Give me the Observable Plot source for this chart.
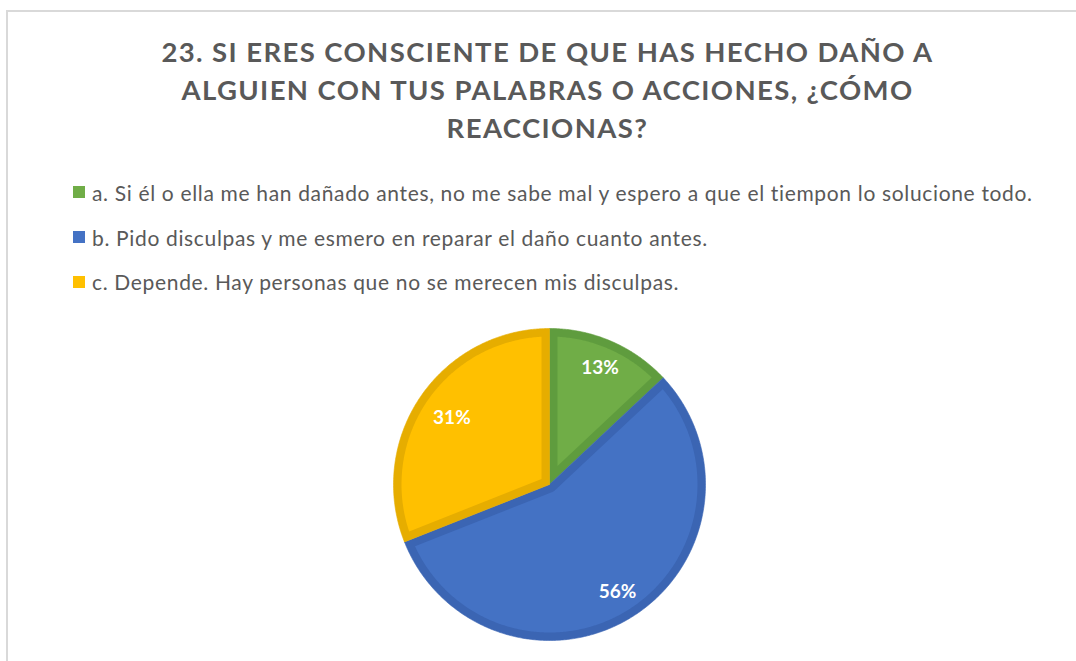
<!DOCTYPE html>
<html>
<head>
<meta charset="utf-8">
<script src="https://cdn.jsdelivr.net/npm/d3@7"></script>
<script src="https://cdn.jsdelivr.net/npm/@observablehq/plot@0.6"></script>
<style>
  html, body { margin: 0; padding: 0; background: #fff; }
  #page { position: relative; width: 1076px; height: 661px; overflow: hidden; }
  #frame { position: absolute; left: 6px; top: 10px; width: 1100px; height: 700px;
           border-top: 2px solid #d9d9d9; border-left: 2px solid #d9d9d9; box-sizing: border-box; }
  #title { position: absolute; left: 0; width: 1095px; top: 33px; text-align: center;
           font-family: Lato, "Open Sans", sans-serif; font-weight: 700; color: #595959;
           font-size: 27.5px; line-height: 38px; letter-spacing: 1.4px; }
  #legend { position: absolute; left: 73px; top: 170px; font-family: Lato, "Open Sans", sans-serif;
            color: #595959; font-size: 21px; letter-spacing: 0.66px; }
  .row { height: 44.7px; display: flex; align-items: center; white-space: nowrap; }
  .sw { width: 12px; height: 12px; margin-right: 7px; flex: none; }
  #chart { position: absolute; left: 379px; top: 314px; }
</style>
</head>
<body>
<div id="page">
  <div id="frame"></div>
  <div id="title"></div>
  <div id="legend"></div>
  <div id="chart"></div>
</div>
<script>
const titleLines = [
  "23. SI ERES CONSCIENTE DE QUE HAS HECHO DAÑO A",
  "ALGUIEN CON TUS PALABRAS O ACCIONES, ¿CÓMO",
  "REACCIONAS?"
];
const categories = [
  "a. Si él o ella me han dañado antes, no me sabe mal y espero a que el tiempon lo solucione todo.",
  "b. Pido disculpas y me esmero en reparar el daño cuanto antes.",
  "c. Depende. Hay personas que no se merecen mis disculpas."
];
const values = [13, 56, 31];
const labels = ["13%", "56%", "31%"];
const fillColors = ["#70AD47", "#4472C4", "#FFC000"];
const borderColors = ["#5F9C3E", "#3B65B3", "#E6AD00"];

document.getElementById("title").innerHTML = titleLines.map(t => `<div>${t}</div>`).join("");
document.getElementById("legend").innerHTML = categories.map((c, i) =>
  `<div class="row"><span class="sw" style="background:${fillColors[i]}"></span><span>${c}</span></div>`).join("");

const R = 156, D = 8, HALF = 170;
const arcs = d3.pie().sort(null).startAngle(0).endAngle(2 * Math.PI)(values);
const pt = (a, r) => ({x: r * Math.sin(a), y: -r * Math.cos(a)});

function outerWedge(a0, a1) {
  const pts = [pt(0, 0)];
  const n = Math.max(8, Math.ceil((a1 - a0) / 0.01));
  for (let k = 0; k <= n; k++) pts.push(pt(a0 + (a1 - a0) * k / n, R));
  pts.push(pt(0, 0));
  return pts;
}
function innerWedge(a0, a1) {
  const r2 = R - D;
  const dA = Math.asin(D / r2);
  const b0 = a0 + dA, b1 = a1 - dA;
  const pts = [];
  const n = Math.max(8, Math.ceil((b1 - b0) / 0.01));
  for (let k = 0; k <= n; k++) pts.push(pt(b0 + (b1 - b0) * k / n, r2));
  const theta = a1 - a0;
  if (theta < Math.PI) {
    pts.push(pt((a0 + a1) / 2, D / Math.sin(theta / 2)));
  } else {
    const s = a1 - Math.PI / 2, e = a0 + Math.PI / 2;
    for (let k = 0; k <= 10; k++) pts.push(pt(s + (e - s) * k / 10, D));
  }
  pts.push(pts[0]);
  return pts;
}

const marks = [];
arcs.forEach((a, i) => {
  marks.push(Plot.line(outerWedge(a.startAngle, a.endAngle), {x: "x", y: "y", fill: borderColors[i], stroke: borderColors[i], strokeWidth: 0.6}));
});
arcs.forEach((a, i) => {
  marks.push(Plot.line(innerWedge(a.startAngle, a.endAngle), {x: "x", y: "y", fill: fillColors[i], stroke: "none"}));
});
const labelData = arcs.map((a, i) => ({...pt((a.startAngle + a.endAngle) / 2, i === 2 ? 118 : 127), text: labels[i]}));
marks.push(Plot.text(labelData, {x: "x", y: "y", text: "text", fill: "white", fontWeight: "bold", fontSize: 19, fontFamily: "Lato, 'Open Sans', sans-serif"}));

const svg = Plot.plot({
  width: 2 * HALF, height: 2 * HALF, margin: 0,
  x: {domain: [-HALF, HALF], range: [0, 2 * HALF], axis: null},
  y: {domain: [-HALF, HALF], range: [0, 2 * HALF], axis: null},
  style: {background: "transparent", overflow: "visible"},
  marks
});
document.getElementById("chart").appendChild(svg);
</script>
</body>
</html>
